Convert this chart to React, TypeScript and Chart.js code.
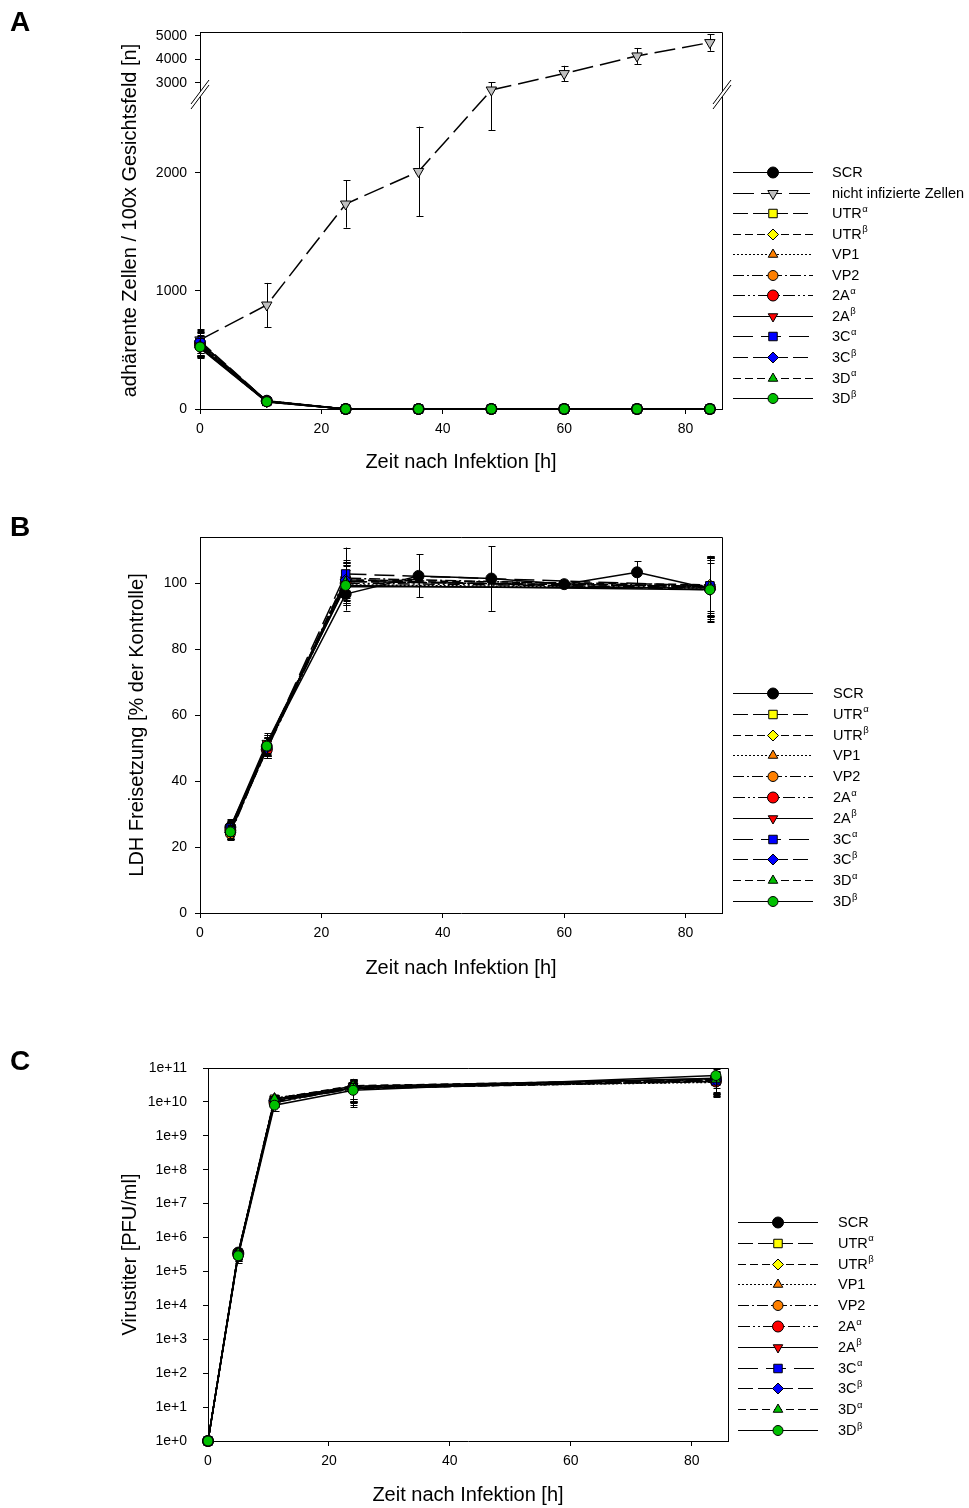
import React, { useEffect, useRef } from 'react';
import { Chart, registerables, LinearScale } from 'chart.js';
import { drawPoint } from 'chart.js/helpers';

Chart.register(...registerables);

const FONT = "'Liberation Sans', Arial, Helvetica, sans-serif";
Chart.defaults.font.family = FONT;
Chart.defaults.color = '#000';

// ---------------- DATA ----------------
const hourTicks = [0, 20, 40, 60, 80];
const adherentTicks = [0, 1000, 2000, 3000, 4000, 5000];
const ldhTicks = [0, 20, 40, 60, 80, 100];
const titerTicks = [1, 1e1, 1e2, 1e3, 1e4, 1e5, 1e6, 1e7, 1e8, 1e9, 1e10, 1e11];

const seriesNames = ['SCR', 'UTR', 'UTR', 'VP1', 'VP2', '2A', '2A', '3C', '3C', '3D', '3D'];
const seriesSup = ['', 'α', 'β', '', '', 'α', 'β', 'α', 'β', 'α', 'β'];
const uninfectedName = 'nicht infizierte Zellen';

// Panel A: adherent cells per 100x field
const timesAdherent = [0, 11, 24, 36, 48, 60, 72, 84];
const uninfectedCells = [585, 880, 1735, 2010, 2700, 3400, 4150, 4720];
const uninfectedSd = [80, 187, 200, 380, 340, 330, 340, 350];
const adherentMeans = [
  [560, 70, 0, 0, 0, 0, 0, 0],
  [540, 65, 0, 0, 0, 0, 0, 0],
  [520, 60, 0, 0, 0, 0, 0, 0],
  [550, 68, 0, 0, 0, 0, 0, 0],
  [530, 62, 0, 0, 0, 0, 0, 0],
  [545, 66, 0, 0, 0, 0, 0, 0],
  [515, 58, 0, 0, 0, 0, 0, 0],
  [565, 64, 0, 0, 0, 0, 0, 0],
  [575, 67, 0, 0, 0, 0, 0, 0],
  [535, 63, 0, 0, 0, 0, 0, 0],
  [525, 62, 0, 0, 0, 0, 0, 0],
];
const adherentSd = [
  [100, 12, 0, 0, 0, 0, 0, 0],
  [90, 10, 0, 0, 0, 0, 0, 0],
  [80, 10, 0, 0, 0, 0, 0, 0],
  [95, 11, 0, 0, 0, 0, 0, 0],
  [85, 10, 0, 0, 0, 0, 0, 0],
  [110, 12, 0, 0, 0, 0, 0, 0],
  [75, 9, 0, 0, 0, 0, 0, 0],
  [90, 10, 0, 0, 0, 0, 0, 0],
  [100, 11, 0, 0, 0, 0, 0, 0],
  [85, 10, 0, 0, 0, 0, 0, 0],
  [80, 10, 0, 0, 0, 0, 0, 0],
];

// Panel B: LDH release (% of control)
const timesLdhScr = [5, 11, 24, 36, 48, 60, 72, 84];
const timesLdh = [5, 11, 24, 84];
const ldhMeans = [
  [26, 50.5, 96.7, 102.2, 101.4, 99.7, 103.3, 98.3],
  [25, 50, 100.5, 99],
  [24.5, 49.5, 101, 99.5],
  [25.5, 51, 99.5, 98.5],
  [24, 50, 101.5, 99],
  [25, 49.5, 100, 98.7],
  [26, 51.5, 99, 98.5],
  [25.7, 50.5, 102.8, 99.2],
  [24.5, 50, 101, 98],
  [25, 51, 100.5, 99],
  [24.6, 50.6, 99.3, 98],
];
const ldhSd = [
  [2.5, 3, 5, 6.5, 9.8, 1, 3.3, 10],
  [2.5, 3, 6, 9],
  [2, 2.5, 5, 8],
  [2.5, 3, 6, 9.5],
  [2, 3, 5, 8],
  [2.5, 2.5, 6, 9],
  [2, 3, 5, 8.5],
  [2.5, 3, 8, 9],
  [2, 2.5, 6, 8],
  [2.5, 3, 5, 9],
  [2, 2.5, 6, 9.5],
];

// Panel C: virus titre [PFU/ml]
const timesTiter = [0, 5, 11, 24, 84];
const titerMeans = [
  [1, 3.6e5, 1.1e10, 2.6e10, 5.0e10],
  [1, 3.4e5, 1.2e10, 2.8e10, 4.2e10],
  [1, 3.3e5, 1.0e10, 2.5e10, 4.0e10],
  [1, 3.5e5, 1.3e10, 2.7e10, 3.8e10],
  [1, 3.0e5, 1.1e10, 2.4e10, 4.5e10],
  [1, 3.2e5, 9.5e9, 2.6e10, 4.0e10],
  [1, 3.4e5, 1.2e10, 2.9e10, 4.8e10],
  [1, 3.1e5, 1.0e10, 2.5e10, 4.2e10],
  [1, 3.3e5, 1.1e10, 2.7e10, 4.4e10],
  [1, 3.5e5, 1.25e10, 3.0e10, 4.6e10],
  [1, 2.9e5, 8.0e9, 2.2e10, 6.0e10],
];
const titerSd = [
  [0, 1.2e5, 3e9, 1.8e10, 3.0e10],
  [0, 1.0e5, 3e9, 1.6e10, 2.5e10],
  [0, 1.0e5, 2.5e9, 1.5e10, 2.5e10],
  [0, 1.1e5, 3e9, 1.7e10, 2.4e10],
  [0, 1.0e5, 2.5e9, 1.5e10, 2.8e10],
  [0, 1.0e5, 2.5e9, 1.6e10, 2.5e10],
  [0, 1.1e5, 3e9, 1.8e10, 3.0e10],
  [0, 1.0e5, 2.5e9, 1.5e10, 2.5e10],
  [0, 1.0e5, 3e9, 1.6e10, 2.8e10],
  [0, 1.2e5, 3e9, 1.8e10, 2.8e10],
  [0, 1.1e5, 2.5e9, 1.5e10, 3.5e10],
];

// ---------------- STYLES ----------------
const seriesStyles = [
  { pointStyle: 'circle', color: '#000000', rotation: 0, dash: [], radius: 5.5 },
  { pointStyle: 'rect', color: '#FFFF00', rotation: 0, dash: [15, 5], radius: 6 },
  { pointStyle: 'rectRot', color: '#FFFF00', rotation: 0, dash: [8, 4], radius: 5.5 },
  { pointStyle: 'triangle', color: '#FF8000', rotation: 0, dash: [2, 2], radius: 5.5 },
  { pointStyle: 'circle', color: '#FF8000', rotation: 0, dash: [11, 3, 2, 3], radius: 5 },
  { pointStyle: 'circle', color: '#FF0000', rotation: 0, dash: [12, 3, 2, 3, 2, 3], radius: 5.5 },
  { pointStyle: 'triangle', color: '#FF0000', rotation: 180, dash: [], radius: 5.5 },
  { pointStyle: 'rect', color: '#0000FF', rotation: 0, dash: [20, 8], radius: 6 },
  { pointStyle: 'rectRot', color: '#0000FF', rotation: 0, dash: [15, 5], radius: 5.5 },
  { pointStyle: 'triangle', color: '#00C000', rotation: 0, dash: [8, 4], radius: 5.5 },
  { pointStyle: 'circle', color: '#00C000', rotation: 0, dash: [], radius: 5 },
];
const uninfectedStyle = { pointStyle: 'triangle', color: '#C0C0C0', rotation: 180, dash: [21, 7], radius: 6 };

// ---------------- CUSTOM SCALE (broken axis) ----------------
class BrokenScale extends LinearScale {
  static id = 'broken';
  static defaults = LinearScale.defaults;
  _frac(value: number) {
    const o: any = this.options;
    const bv = o.breakValue;
    const bf = o.breakFraction;
    if (value <= bv) return ((value - this.min) / (bv - this.min)) * bf;
    return bf + ((value - bv) / (this.max - bv)) * (1 - bf);
  }
  getPixelForValue(value: number) {
    if (value === null || value === undefined || isNaN(value)) return NaN;
    return this.getPixelForDecimal(this._frac(value));
  }
  getValueForPixel(pixel: number) {
    const o: any = this.options;
    const d = this.getDecimalForPixel(pixel);
    const bv = o.breakValue;
    const bf = o.breakFraction;
    if (d <= bf) return this.min + (d / bf) * (bv - this.min);
    return bv + ((d - bf) / (1 - bf)) * (this.max - bv);
  }
}
Chart.register(BrokenScale as any);

// ---------------- PLUGINS ----------------
const errorBars = {
  id: 'errorBars',
  beforeDatasetDraw(chart: any, args: any) {
    const ds = chart.data.datasets[args.index];
    const errs = ds.errors;
    if (!errs) return;
    const xs = chart.scales.x;
    const ys = chart.scales.y;
    const ctx = chart.ctx;
    ctx.save();
    ctx.strokeStyle = '#000';
    ctx.lineWidth = 1;
    ds.data.forEach((p: any, i: number) => {
      const e = errs[i];
      if (!e) return;
      const x = Math.round(xs.getPixelForValue(p.x)) + 0.5;
      let lo = p.y - e;
      if (ys.type === 'logarithmic' && lo <= 0) lo = ys.min;
      const yTop = ys.getPixelForValue(p.y + e);
      const yBot = ys.getPixelForValue(lo);
      ctx.beginPath();
      ctx.moveTo(x, yTop);
      ctx.lineTo(x, yBot);
      ctx.moveTo(x - 3, Math.round(yTop) + 0.5);
      ctx.lineTo(x + 4, Math.round(yTop) + 0.5);
      ctx.moveTo(x - 3, Math.round(yBot) + 0.5);
      ctx.lineTo(x + 4, Math.round(yBot) + 0.5);
      ctx.stroke();
    });
    ctx.restore();
  },
};

const frame = {
  id: 'frame',
  beforeDatasetsDraw(chart: any) {
    const { left, right, top, bottom } = chart.chartArea;
    const ctx = chart.ctx;
    ctx.save();
    ctx.strokeStyle = '#000';
    ctx.lineWidth = 1;
    ctx.beginPath();
    ctx.moveTo(left, top + 0.5);
    ctx.lineTo(right + 0.5, top + 0.5);
    ctx.lineTo(right + 0.5, bottom);
    ctx.stroke();
    ctx.restore();
  },
};

const breakMarks = {
  id: 'breakMarks',
  afterDatasetsDraw(chart: any, _args: any, opts: any) {
    const ys = chart.scales.y;
    const y = ys.getPixelForValue(opts.value) + 2;
    const ctx = chart.ctx;
    const { left, right } = chart.chartArea;
    ctx.save();
    [left, right].forEach((x0: number) => {
      const dx = 9, dy = 12, gap = 5;
      ctx.fillStyle = '#fff';
      ctx.beginPath();
      ctx.moveTo(x0 - dx + 3, y + dy - 4);
      ctx.lineTo(x0 + dx - 3, y - dy + 4);
      ctx.lineTo(x0 + dx - 3, y - dy + 4 + gap);
      ctx.lineTo(x0 - dx + 3, y + dy - 4 + gap);
      ctx.closePath();
      ctx.fill();
      ctx.strokeStyle = '#000';
      ctx.lineWidth = 1;
      ctx.beginPath();
      ctx.moveTo(x0 - dx, y + dy);
      ctx.lineTo(x0 + dx, y - dy);
      ctx.moveTo(x0 - dx, y + dy + gap);
      ctx.lineTo(x0 + dx, y - dy + gap);
      ctx.stroke();
    });
    ctx.restore();
  },
};

const seriesLegend = {
  id: 'seriesLegend',
  afterDraw(chart: any, _args: any, opts: any) {
    const ctx = chart.ctx;
    chart.data.datasets.forEach((ds: any, i: number) => {
      const y = opts.y0 + i * opts.dy;
      ctx.save();
      ctx.strokeStyle = '#000';
      ctx.lineWidth = 1;
      ctx.setLineDash(ds.borderDash || []);
      ctx.beginPath();
      ctx.moveTo(opts.x1, Math.round(y) + 0.5);
      ctx.lineTo(opts.x2, Math.round(y) + 0.5);
      ctx.stroke();
      ctx.setLineDash([]);
      ctx.fillStyle = ds.pointBackgroundColor;
      ctx.strokeStyle = '#000';
      ctx.lineWidth = 1;
      drawPoint(ctx, { pointStyle: ds.pointStyle, radius: ds.pointRadius, rotation: ds.pointRotation || 0, borderWidth: 1 } as any, opts.xm, Math.round(y) + 0.5);
      ctx.fillStyle = '#000';
      ctx.textBaseline = 'middle';
      ctx.textAlign = 'left';
      ctx.font = `14.5px ${FONT}`;
      const base = ds.baseLabel;
      ctx.fillText(base, opts.xt, y + 1);
      if (ds.supLabel) {
        const w = ctx.measureText(base).width;
        ctx.font = `9.5px ${FONT}`;
        ctx.fillText(ds.supLabel, opts.xt + w + 0.5, y - 4);
      }
      ctx.restore();
    });
  },
};

// ---------------- HELPERS ----------------
function makeDataset(name: string, sup: string, style: any, xs: number[], ys: number[], errs: number[], order: number) {
  return {
    label: name + sup,
    baseLabel: name,
    supLabel: sup,
    data: xs.map((x, i) => ({ x, y: ys[i] })),
    errors: errs,
    borderColor: '#000',
    borderWidth: 1.5,
    borderDash: style.dash,
    pointStyle: style.pointStyle,
    pointRadius: style.radius,
    pointRotation: style.rotation,
    pointBackgroundColor: style.color,
    pointBorderColor: '#000',
    pointBorderWidth: 1,
    fill: false,
    tension: 0,
    clip: false,
    order,
  };
}

const TICK_FONT = { size: 14, family: FONT };

function xScale(axisHeight: number) {
  return {
    type: 'linear',
    min: 0,
    max: 86,
    afterBuildTicks: (s: any) => { s.ticks = hourTicks.map((v) => ({ value: v })); },
    afterFit: (s: any) => { s.height = axisHeight; },
    ticks: { color: '#000', font: TICK_FONT, padding: 7, autoSkip: false, maxRotation: 0, callback: (v: number) => String(v) },
    grid: { display: true, drawOnChartArea: false, drawTicks: true, tickLength: 5, color: '#000', lineWidth: 1 },
    border: { display: true, color: '#000', width: 1 },
    title: { display: true, text: 'Zeit nach Infektion [h]', color: '#000', font: { size: 20, family: FONT }, padding: 0 },
  };
}

function yCommon(axisWidth: number, pad: number, title: string) {
  return {
    afterFit: (s: any) => { s.width = axisWidth; },
    ticks: { color: '#000', font: TICK_FONT, padding: pad, autoSkip: false, callback: (v: number) => String(v) },
    grid: { display: true, drawOnChartArea: false, drawTicks: true, tickLength: 5, color: '#000', lineWidth: 1 },
    border: { display: true, color: '#000', width: 1 },
    title: { display: true, text: title, color: '#000', font: { size: 20, family: FONT }, padding: 0 },
  };
}

const baseOptions = {
  responsive: false,
  animation: false,
  devicePixelRatio: 1,
  events: [],
};

function configA() {
  const datasets: any[] = [];
  const n = seriesNames.length + 1;
  datasets.push(makeDataset(seriesNames[0], seriesSup[0], seriesStyles[0], timesAdherent, adherentMeans[0], adherentSd[0], n));
  datasets.push(makeDataset(uninfectedName, '', uninfectedStyle, timesAdherent, uninfectedCells, uninfectedSd, n - 1));
  for (let i = 1; i < seriesNames.length; i++) {
    datasets.push(makeDataset(seriesNames[i], seriesSup[i], seriesStyles[i], timesAdherent, adherentMeans[i], adherentSd[i], n - 1 - i));
  }
  return {
    type: 'line',
    data: { datasets },
    plugins: [frame, errorBars, breakMarks, seriesLegend],
    options: {
      ...baseOptions,
      layout: { padding: { left: 118, right: 247, top: 32, bottom: 26 } },
      plugins: {
        legend: { display: false },
        tooltip: { enabled: false },
        breakMarks: { value: 2700 },
        seriesLegend: { x1: 733, x2: 813, xm: 773, xt: 832, y0: 172, dy: 20.55 },
      },
      scales: {
        x: xScale(65),
        y: {
          type: 'broken',
          min: 0,
          max: 5170,
          breakValue: 2700,
          breakFraction: 319 / 377,
          afterBuildTicks: (s: any) => { s.ticks = adherentTicks.map((v) => ({ value: v })); },
          ...yCommon(82, 8, 'adhärente Zellen / 100x Gesichtsfeld [n]'),
        },
      },
    },
  };
}

function configB() {
  const n = seriesNames.length;
  const datasets = seriesNames.map((name, i) =>
    makeDataset(name, seriesSup[i], seriesStyles[i], i === 0 ? timesLdhScr : timesLdh, ldhMeans[i], ldhSd[i], n - i)
  );
  return {
    type: 'line',
    data: { datasets },
    plugins: [frame, errorBars, seriesLegend],
    options: {
      ...baseOptions,
      layout: { padding: { left: 125, right: 247, top: 37, bottom: 30 } },
      plugins: {
        legend: { display: false },
        tooltip: { enabled: false },
        seriesLegend: { x1: 733, x2: 813, xm: 773, xt: 833, y0: 193, dy: 20.8 },
      },
      scales: {
        x: xScale(67),
        y: {
          type: 'linear',
          min: 0,
          max: 114,
          afterBuildTicks: (s: any) => { s.ticks = ldhTicks.map((v) => ({ value: v })); },
          ...yCommon(75, 8, 'LDH Freisetzung [% der Kontrolle]'),
        },
      },
    },
  };
}

function configC() {
  const n = seriesNames.length;
  const datasets = seriesNames.map((name, i) =>
    makeDataset(name, seriesSup[i], seriesStyles[i], timesTiter, titerMeans[i], titerSd[i], n - i)
  );
  const yc: any = yCommon(90, 16, 'Virustiter [PFU/ml]');
  yc.ticks = { ...yc.ticks, callback: (v: number) => '1e+' + Math.round(Math.log10(v)) };
  return {
    type: 'line',
    data: { datasets },
    plugins: [frame, errorBars, seriesLegend],
    options: {
      ...baseOptions,
      layout: { padding: { left: 118, right: 241, top: 58, bottom: 1 } },
      plugins: {
        legend: { display: false },
        tooltip: { enabled: false },
        seriesLegend: { x1: 738, x2: 818, xm: 778, xt: 838, y0: 212, dy: 20.8 },
      },
      scales: {
        x: xScale(66),
        y: {
          type: 'logarithmic',
          min: 1,
          max: 1e11,
          afterBuildTicks: (s: any) => { s.ticks = titerTicks.map((v) => ({ value: v })); },
          ...yc,
        },
      },
    },
  };
}

function ChartCanvas({ top, height, makeConfig }: { top: number; height: number; makeConfig: () => any }) {
  const ref = useRef<HTMLCanvasElement | null>(null);
  useEffect(() => {
    const chart = new Chart(ref.current as HTMLCanvasElement, makeConfig());
    return () => chart.destroy();
  }, []);
  return (
    <canvas
      ref={ref}
      width={969}
      height={height}
      style={{ position: 'absolute', left: 0, top, width: 969, height }}
    />
  );
}

const letterStyle: React.CSSProperties = {
  position: 'absolute',
  left: 10,
  fontFamily: FONT,
  fontWeight: 'bold',
  fontSize: 28,
  lineHeight: '28px',
  color: '#000',
};

export default function App() {
  return (
    <div style={{ position: 'absolute', left: 0, top: 0, width: 969, height: 1508, background: '#fff', overflow: 'hidden' }}>
      <ChartCanvas top={0} height={500} makeConfig={configA} />
      <ChartCanvas top={500} height={510} makeConfig={configB} />
      <ChartCanvas top={1010} height={498} makeConfig={configC} />
      <div style={{ ...letterStyle, top: 8 }}>A</div>
      <div style={{ ...letterStyle, top: 513 }}>B</div>
      <div style={{ ...letterStyle, top: 1047 }}>C</div>
    </div>
  );
}
